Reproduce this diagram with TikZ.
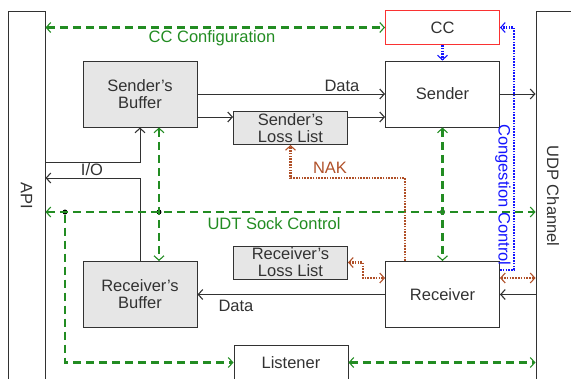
\documentclass[tikz,border=0pt]{standalone}
\usepackage{fontspec}
\setmainfont{Liberation Sans}
\usetikzlibrary{arrows.meta}
\definecolor{udt-green}{RGB}{34,140,34}
\definecolor{udt-brown}{RGB}{176,80,40}
\definecolor{udt-blue}{RGB}{20,20,255}
\definecolor{udt-red}{RGB}{250,50,50}
\definecolor{udt-grey}{RGB}{50,50,50}
\definecolor{udt-light-grey}{RGB}{230,230,230}

\begin{document}
\begin{tikzpicture}[x=1pt,y=-1pt,
  >={Straight Barb[length=4.5pt,width=10pt,line width=1.1pt]},
  every node/.style={font=\fontsize{16.5}{17}\selectfont, text=udt-grey},
  box/.style={draw=udt-grey, line width=1pt, minimum width=114pt, minimum height=66pt, align=center, inner sep=0pt},
  listbox/.style={box, fill=udt-light-grey, minimum height=33pt},
  dot/.style={circle, fill=black, inner sep=0pt, minimum size=5pt},
  data/.style={udt-grey, line width=0.9pt},
  ctrl/.style={udt-green, line width=2.6pt, dash pattern=on 8pt off 5pt},
  nak/.style={udt-brown, line width=2.4pt, dash pattern=on 1.6pt off 1.2pt},
  cong/.style={udt-blue, line width=2.4pt, dash pattern=on 1.6pt off 1.2pt}]
\useasboundingbox (0,0) rectangle (571,378);
\clip (0,0) rectangle (571,378);
%Blocks:
\node[draw=udt-grey, line width=1pt, minimum width=37pt, minimum height=369pt] (api) at (26.5,195.5) {};
\node[draw=udt-grey, line width=1pt, minimum width=39pt, minimum height=369pt] (udp) at (555.5,195.5) {};
\node[rotate=-90] (apilabel) at (api.center) {API};
\node[rotate=-90] (udplabel) at (553,196) {UDP Channel};
\node[box, fill=udt-light-grey] (sbuf) at (140,94) {Sender’s\\Buffer};
\node[box] (sender) at (442.5,94) {Sender};
\node[box, draw=udt-red, minimum height=34pt] (cc) at (442.5,27.5) {CC};
\node[listbox] (sloss) at (290.5,128) {Sender’s\\Loss List};
\node[listbox] (rloss) at (290.5,262.5) {Receiver’s\\Loss List};
\node[box, fill=udt-light-grey] (rbuf) at (140,294.5) {Receiver’s\\Buffer};
\node[box] (receiver) at (442.5,294.5) {Receiver};
\node[box, minimum height=35pt] (listener) at (291,362.5) {Listener};
\node[dot] (d1) at (65,212) {};
\node[dot] (d2) at (159,212) {};
\node[dot] (d3) at (442.5,212) {};
\coordinate (rx) at ([yshift=16.5pt]receiver.east);
%Data path:
\draw[data,->] (sbuf.east) -- (sender.west);
\draw[data,->] ([yshift=-23pt]sbuf.east) -- ([yshift=11pt]sloss.west);
\draw[data,->] ([yshift=11pt]sloss.east) -- ([yshift=-23pt]sender.west);
\draw[data,->] (sender.east) -- (udp.west |- sender.east);
\draw[data,->] (udp.west |- receiver.east) -- (receiver.east);
\draw[data,->] (receiver.west) -- (rbuf.east);
\draw[data,->] ([yshift=33.5pt]api.east) -| (sbuf.south);
\draw[data,->] (rbuf.north) |- ([yshift=17.5pt]api.east);
\node (data1) at (342,86) {Data};
\node (data2) at (236,306) {Data};
\node (io) at (92,170) {I/O};
%Control:
\draw[ctrl,<->] (api.east |- cc.west) -- (cc.west);
\draw[ctrl,<->] ([yshift=-16.5pt]api.east) -- ([yshift=-16.5pt]udp.west);
\draw[ctrl,<->] ([xshift=19pt]sbuf.south) -- ([xshift=19pt]rbuf.north);
\draw[ctrl,<->] (sender.south) -- (receiver.north);
\draw[ctrl,->] (d1) |- (listener.west);
\draw[ctrl,<->] (listener.east) -- (udp.west |- listener.east);
\node[text=udt-green] (cclabel) at (212,38) {CC Configuration};
\node[text=udt-green] (udtlabel) at (274,224) {UDT Sock Control};
%NAK and congestion:
\draw[nak,->] ([xshift=-37.5pt]receiver.north) -- ++(0,-83) -| (sloss.south);
\draw[nak,<->] (rloss.east) -- ++(15,0) |- ([yshift=16.5pt]receiver.west);
\draw[nak,<->] (rx) -- (udp.west |- rx);
\draw[cong,->] (cc.south) -- (sender.north);
\draw[cong,->] ([yshift=24.5pt]receiver.east) -- ++(14,0) |- (cc.east);
\node[text=udt-brown] (naklabel) at (330,168) {NAK};
\node[text=udt-blue, rotate=-90] (conglabel) at (503,195) {Congestion Control};
\end{tikzpicture}
\end{document}
